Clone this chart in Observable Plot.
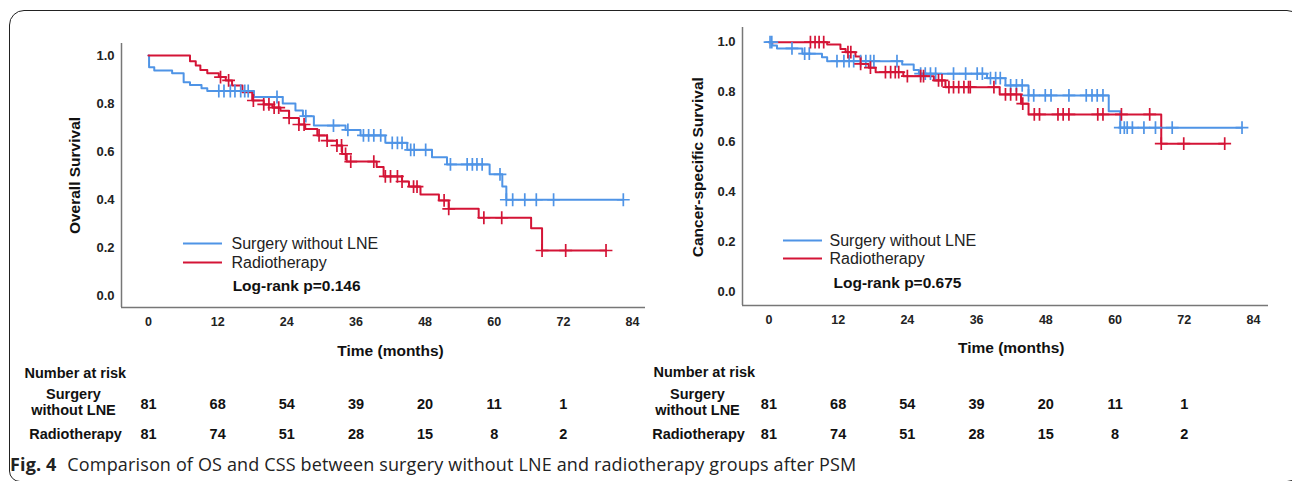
<!DOCTYPE html>
<html>
<head>
<meta charset="utf-8">
<script src="https://cdn.jsdelivr.net/npm/d3@7"></script>
<script src="https://cdn.jsdelivr.net/npm/@observablehq/plot@0.6"></script>
<style>
  html, body { margin: 0; padding: 0; background: #fff; width: 1292px; height: 481px; overflow: hidden; }
  #frame { position: absolute; left: 9px; top: 10px; width: 1294px; height: 472px; border: 1.3px solid #222; border-radius: 15px 16px 16px 11px; box-sizing: border-box; }
  .panel { position: absolute; top: 0; }
  .panel svg { background: transparent !important; max-width: none !important; overflow: visible; }
  #caption { position: absolute; left: 10px; top: 452px; font-family: "Open Sans", "Noto Sans", sans-serif; font-size: 18px; color: #222; white-space: nowrap; letter-spacing: 0.15px; }
  #caption b { font-weight: 700; margin-right: 6px; }
</style>
</head>
<body>
<div id="frame"></div>
<div id="left" class="panel" style="left:0px"></div>
<div id="right" class="panel" style="left:640px"></div>
<div id="caption"><b>Fig. 4</b> Comparison of OS and CSS between surgery without LNE and radiotherapy groups after PSM</div>
<script>
// ---------- data ----------
const groups = ["Surgery without LNE", "Radiotherapy"];
const colors = ["#4f94e6", "#d41436"];
const xTicks = [0, 12, 24, 36, 48, 60, 72, 84];
const yTicks = [0, 0.2, 0.4, 0.6, 0.8, 1.0];
const riskTimes = [0, 12, 24, 36, 48, 60, 72];
const riskSurgery = [81, 68, 54, 39, 20, 11, 1];
const riskRadio = [81, 74, 51, 28, 15, 8, 2];

// Overall survival – Surgery without LNE
const osSurgT = [0, 0.1, 1.0, 4.1, 6.1, 7.2, 9.2, 10.2, 18.3, 23.3, 25.5, 26.8, 28.7, 34.2, 36.8, 41.1, 44.9, 49.2, 51.8, 59.2, 61.4, 62.1, 82.4];
const osSurgS = [1.0, 0.951, 0.938, 0.926, 0.889, 0.877, 0.864, 0.852, 0.827, 0.80, 0.771, 0.747, 0.708, 0.69, 0.667, 0.636, 0.607, 0.576, 0.546, 0.505, 0.454, 0.399, 0.399];
const osSurgC = [12.2, 13.1, 14.2, 15.0, 16.0, 16.7, 17.3, 22.3, 27.3, 32.1, 34.6, 37.3, 38.2, 39.1, 40.3, 42.3, 43.2, 44.0, 45.5, 46.1, 48.1, 52.4, 55.3, 56.2, 57.0, 57.9, 61.0, 62.1, 63.2, 65.3, 67.3, 70.3, 82.4];
// Overall survival – Radiotherapy
const osRadT = [0, 7.2, 8.2, 9.0, 10.2, 12.2, 13.4, 14.5, 16.3, 18.0, 20.0, 21.5, 22.9, 24.4, 26.1, 27.2, 29.3, 31.0, 32.7, 33.6, 34.4, 39.6, 40.8, 44.0, 45.2, 47.2, 50.4, 52.1, 57.3, 66.4, 68.3, 79.4];
const osRadS = [1.0, 0.976, 0.958, 0.94, 0.926, 0.91, 0.896, 0.875, 0.847, 0.8125, 0.796, 0.783, 0.77, 0.74, 0.7125, 0.694, 0.667, 0.645, 0.625, 0.59, 0.558, 0.535, 0.496, 0.475, 0.454, 0.421, 0.396, 0.361, 0.324, 0.28, 0.1875, 0.1875];
const osRadC = [12.5, 13.9, 18.2, 20.0, 20.9, 21.8, 22.6, 24.4, 26.1, 27.0, 29.6, 31.0, 32.7, 33.5, 34.2, 35.1, 39.1, 41.1, 42.0, 43.2, 44.0, 46.0, 46.6, 51.3, 52.1, 58.2, 61.3, 68.3, 72.4, 79.4];

// Cancer-specific survival – Surgery without LNE
const cssSurgT = [0, 0.6, 1.4, 5.8, 9.2, 10.1, 23.1, 25.1, 26.0, 37.8, 41.0, 45.0, 58.9, 60.9, 82.0];
const cssSurgS = [1.0, 0.987, 0.975, 0.954, 0.94, 0.924, 0.911, 0.889, 0.874, 0.856, 0.827, 0.787, 0.724, 0.658, 0.658];
const cssSurgC = [0.2, 0.5, 4.0, 6.2, 7.0, 11.8, 13.0, 13.9, 14.7, 15.9, 16.8, 17.6, 18.2, 22.2, 26.3, 27.1, 28.0, 28.9, 32.0, 34.1, 36.1, 37.0, 38.4, 39.3, 40.1, 41.9, 42.9, 43.9, 45.0, 45.9, 47.9, 48.9, 52.0, 55.0, 56.0, 56.9, 57.9, 60.9, 61.6, 62.1, 63.0, 65.0, 67.0, 69.9, 82.0];
// Cancer-specific survival – Radiotherapy
const cssRadT = [0, 10.1, 12.4, 13.3, 15.0, 15.9, 17.3, 18.5, 23.3, 28.6, 30.6, 40.0, 43.7, 45.0, 68.0, 79.0];
const cssRadS = [1.0, 0.991, 0.973, 0.96, 0.943, 0.913, 0.898, 0.88, 0.864, 0.847, 0.82, 0.791, 0.754, 0.711, 0.594, 0.594];
const cssRadC = [7.2, 8.0, 8.7, 9.5, 13.7, 14.2, 15.9, 17.6, 20.2, 21.1, 21.9, 22.5, 24.0, 26.3, 26.8, 29.4, 30.0, 31.2, 32.0, 32.9, 33.8, 34.6, 34.9, 39.0, 41.0, 41.9, 42.9, 44.0, 46.0, 46.9, 50.1, 51.0, 52.0, 57.0, 57.9, 61.1, 66.0, 68.0, 71.9, 79.0];

// ---------- helpers ----------
function levelAt(T, S, t) { let v = S[0]; for (let i = 0; i < T.length; i++) if (T[i] <= t) v = S[i]; return v; }

function panel(o) {
  const curves = o.series.flatMap(s => s.T.map((t, i) => ({t, s: s.S[i], g: s.name})));
  const cens = o.series.flatMap(s => s.C.map(t => ({t, s: levelAt(s.T, s.S, t), g: s.name})));
  const L = o.legend;
  const xMid = (xTicks[0] + xTicks[xTicks.length - 1]) / 2;
  const tbl = {fontSize: 14.5, fill: "#111", lineAnchor: "middle"};
  return Plot.plot({
    width: o.width, height: 460,
    marginLeft: o.ml, marginRight: o.mr, marginTop: o.mt, marginBottom: o.mb,
    style: {background: "transparent", fontFamily: "'Liberation Sans', Arial, sans-serif", fontSize: "12.5px", fontWeight: "bold", color: "#222", overflow: "visible"},
    x: {domain: o.xDomain, axis: null},
    y: {domain: o.yDomain, axis: null},
    color: {domain: groups, range: colors},
    marks: [
      Plot.ruleX([o.xDomain[0]], {stroke: "#777", strokeWidth: 1.5}),
      Plot.ruleY([o.yDomain[0]], {stroke: "#777", strokeWidth: 1.5}),
      // tick labels
      Plot.text(yTicks, {y: d => d, frameAnchor: "left", dx: -7, textAnchor: "end", lineAnchor: "middle", text: d3.format(".1f"),
        fontFamily: "'Liberation Sans Narrow', 'Arial Narrow', 'Liberation Sans', sans-serif", fontSize: 13, fill: "#222"}),
      Plot.text(xTicks, {x: d => d, frameAnchor: "bottom", dy: 14, lineAnchor: "middle", text: d => String(d), fontSize: 12.5, fill: "#222"}),
      Plot.line(curves, {x: "t", y: "s", z: "g", stroke: "g", curve: "step-after", strokeWidth: 2}),
      Plot.dot(cens, {x: "t", y: "s", stroke: "g", symbol: "plus", r: 4.2, strokeWidth: 1.7}),
      // legend
      Plot.ruleY(groups, {y: (d, i) => L.y[i], x1: L.x1, x2: L.x2, stroke: (d, i) => colors[i], strokeWidth: 2}),
      Plot.text(groups, {y: (d, i) => L.y[i], x: L.tx, text: d => d, textAnchor: "start", fontWeight: "normal", fontSize: 16, fill: "#222"}),
      Plot.text([o.logrank], {x: L.lx, y: L.ly, text: d => d, textAnchor: "start", fontSize: 15.5, fill: "#111"}),
      // axis titles
      Plot.text(["Time (months)"], {x: xMid, frameAnchor: "bottom", dy: o.xt, lineAnchor: "middle", text: d => d, fontSize: 15.5, fill: "#111"}),
      Plot.text([o.yTitle], {y: 0.5, frameAnchor: "left", dx: o.yt, rotate: -90, textAnchor: "middle", lineAnchor: "middle", text: d => d, fontSize: 15.5, fill: "#111"}),
      // number at risk table
      Plot.text(["Number at risk"], {frameAnchor: "bottom-left", dx: o.r.nx, dy: o.r.ny, textAnchor: "start", text: d => d, ...tbl}),
      Plot.text(["Surgery\nwithout LNE"], {frameAnchor: "bottom-left", dx: o.r.sx, dy: o.r.sy, textAnchor: "middle", text: d => d, lineHeight: 1.1, ...tbl}),
      Plot.text(["Radiotherapy"], {frameAnchor: "bottom-left", dx: o.r.rx, dy: o.r.r2, textAnchor: "middle", text: d => d, ...tbl}),
      Plot.text(riskTimes, {x: d => d, frameAnchor: "bottom", dy: o.r.r1, text: (d, i) => riskSurgery[i], ...tbl}),
      Plot.text(riskTimes, {x: d => d, frameAnchor: "bottom", dy: o.r.r2, text: (d, i) => riskRadio[i], ...tbl})
    ]
  });
}

document.getElementById("left").appendChild(panel({
  width: 650, ml: 121, mr: 5, mt: 43, mb: 153,
  xDomain: [-4.686, 86.25], yDomain: [-0.05, 1.05],
  yTitle: "Overall Survival", logrank: "Log-rank p=0.146",
  xt: 44, yt: -46,
  legend: {x1: 6.07, x2: 12.84, y: [0.217, 0.1375], tx: 14.4, lx: 14.6, ly: 0.0375},
  r: {nx: -97, ny: 66, sx: -48, sy: 94, rx: -46, r1: 97, r2: 127},
  series: [
    {name: groups[0], T: osSurgT, S: osSurgS, C: osSurgC},
    {name: groups[1], T: osRadT, S: osRadS, C: osRadC}
  ]
}));

document.getElementById("right").appendChild(panel({
  width: 652, ml: 102, mr: 24, mt: 27, mb: 155,
  xDomain: [-4.575, 86.59], yDomain: [-0.0532, 1.0588],
  yTitle: "Cancer-specific Survival", logrank: "Log-rank p=0.675",
  xt: 43, yt: -44,
  legend: {x1: 2.53, x2: 9.29, y: [0.207, 0.135], tx: 10.5, lx: 11.2, ly: 0.035},
  r: {nx: -89, ny: 67, sx: -45, sy: 96, rx: -44, r1: 99, r2: 129},
  series: [
    {name: groups[0], T: cssSurgT, S: cssSurgS, C: cssSurgC},
    {name: groups[1], T: cssRadT, S: cssRadS, C: cssRadC}
  ]
}));
</script>
</body>
</html>
